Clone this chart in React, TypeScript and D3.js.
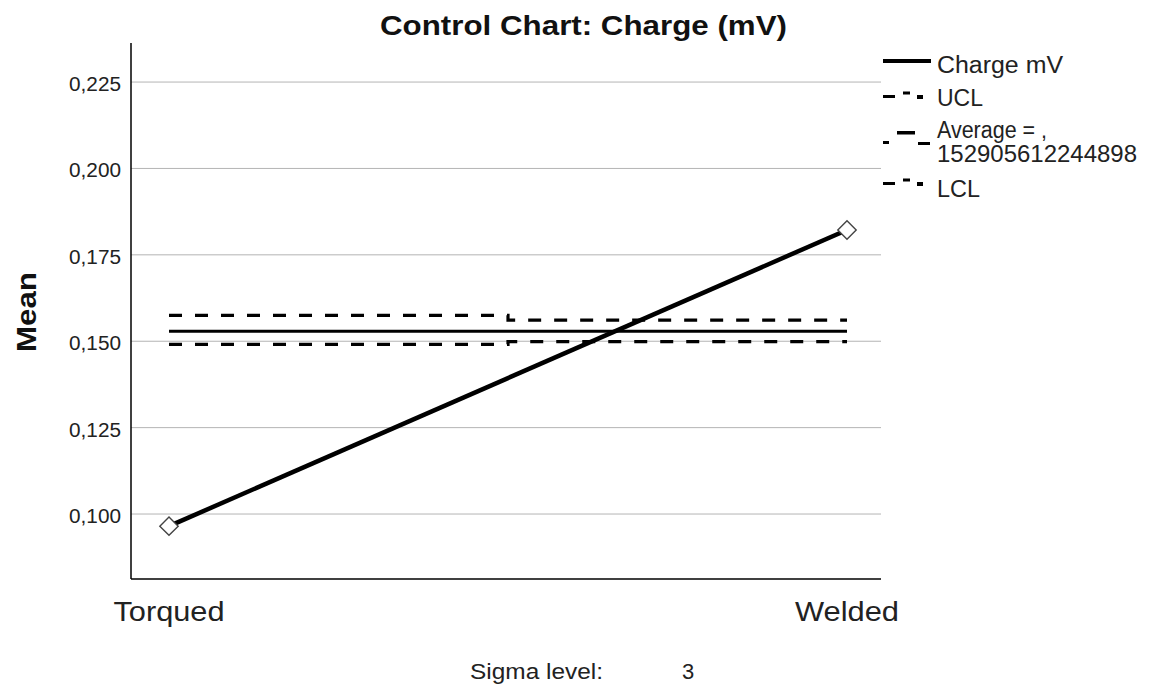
import React from "react";
import * as d3 from "d3";

const categories = ["Torqued", "Welded"];
const chargeMeans = [0.0965, 0.1822];
const uclValues = [0.1575, 0.1561];
const lclValues = [0.1491, 0.1499];
const averageValue = 0.152905612244898;
const yTicks = [0.1, 0.125, 0.15, 0.175, 0.2, 0.225];

const W = 1149;
const H = 688;
const plot = { left: 131, right: 881, top: 43, bottom: 579 };
const font = "'Liberation Sans', Arial, sans-serif";

export default function App() {
  const x = d3.scalePoint<string>().domain(categories).range([169, 847]);
  const y = d3.scaleLinear().domain([0.0812, 0.2363]).range([plot.bottom, plot.top]);
  const fmt = (v: number) => d3.format(".3f")(v).replace(".", ",");

  const stepLine = d3
    .line<number>()
    .x((_, i) => x(categories[i]) as number)
    .y((d) => y(d))
    .curve(d3.curveStep);
  const straight = d3
    .line<number>()
    .x((_, i) => x(categories[i]) as number)
    .y((d) => y(d));

  const lx = 937;
  const catWidths: Record<string, number> = { Torqued: 111, Welded: 104 };
  return (
    <svg width={W} height={H} style={{ position: "absolute", left: 0, top: 0, background: "#fff" }} fontFamily={font}>
      <rect x={0} y={0} width={W} height={H} fill="#fff" />
      <text x={380} y={35} fontSize={27} fontWeight="bold" fill="#111" textLength={407} lengthAdjust="spacingAndGlyphs">
        Control Chart: Charge (mV)
      </text>
      {yTicks.map((t) => (
        <g key={t}>
          <line x1={plot.left} x2={plot.right} y1={y(t)} y2={y(t)} stroke="#b4b4b4" strokeWidth={1} />
          <text x={69} y={y(t) + 9} fontSize={19.5} fill="#222" textLength={52} lengthAdjust="spacingAndGlyphs">
            {fmt(t)}
          </text>
        </g>
      ))}
      <line x1={plot.left} x2={plot.left} y1={plot.top} y2={plot.bottom} stroke="#000" strokeWidth={1.5} />
      <line x1={plot.left} x2={plot.right} y1={plot.bottom} y2={plot.bottom} stroke="#000" strokeWidth={1.5} />
      <text
        transform={`translate(36,${352}) rotate(-90)`}
        fontSize={27}
        fontWeight="bold"
        fill="#111"
        textLength={80}
        lengthAdjust="spacingAndGlyphs"
      >
        Mean
      </text>
      {categories.map((c) => (
        <text
          key={c}
          x={(x(c) as number) - catWidths[c] / 2}
          y={621}
          fontSize={28.5}
          fill="#222"
          textLength={catWidths[c]}
          lengthAdjust="spacingAndGlyphs"
        >
          {c}
        </text>
      ))}
      <path d={stepLine(uclValues) || ""} fill="none" stroke="#000" strokeWidth={3.2} strokeDasharray="13,13" />
      <path d={stepLine(lclValues) || ""} fill="none" stroke="#000" strokeWidth={3.2} strokeDasharray="13,13" />
      <path d={straight([averageValue, averageValue]) || ""} fill="none" stroke="#000" strokeWidth={3} />
      <path d={straight(chargeMeans) || ""} fill="none" stroke="#000" strokeWidth={4.5} />
      {chargeMeans.map((v, i) => {
        const cx = x(categories[i]) as number;
        const cy = y(v);
        return (
          <rect
            key={i}
            x={cx - 6.5}
            y={cy - 6.5}
            width={13}
            height={13}
            fill="#fff"
            stroke="#444"
            strokeWidth={1.4}
            transform={`rotate(45,${cx},${cy})`}
          />
        );
      })}
      {/* legend */}
      <g>
        <rect x={883} y={59} width={48} height={4} fill="#000" />
        <text x={lx} y={73} fontSize={23} fill="#222" textLength={126} lengthAdjust="spacingAndGlyphs">Charge mV</text>

        <rect x={883} y={95} width={12} height={3} fill="#000" />
        <rect x={903} y={91.5} width={7} height={3} fill="#000" />
        <rect x={917} y={95} width={6} height={4} fill="#000" />
        <text x={lx} y={106} fontSize={23} fill="#222" textLength={46} lengthAdjust="spacingAndGlyphs">UCL</text>

        <rect x={883} y={141} width={6} height={3} fill="#000" />
        <rect x={897} y={131} width={18} height={3.5} fill="#000" />
        <rect x={918} y={142} width={12} height={3} fill="#000" />
        <text x={lx} y={138} fontSize={23} fill="#222" textLength={110} lengthAdjust="spacingAndGlyphs">Average = ,</text>
        <text x={lx} y={161.5} fontSize={23} fill="#222" textLength={200} lengthAdjust="spacingAndGlyphs">152905612244898</text>

        <rect x={883} y={182} width={12} height={3} fill="#000" />
        <rect x={903} y={178.5} width={7} height={3} fill="#000" />
        <rect x={917} y={182} width={6} height={4} fill="#000" />
        <text x={lx} y={197} fontSize={23} fill="#222" textLength={43} lengthAdjust="spacingAndGlyphs">LCL</text>
      </g>
      <text x={470} y={679} fontSize={22} fill="#222" textLength={133} lengthAdjust="spacingAndGlyphs">Sigma level:</text>
      <text x={682} y={679} fontSize={22} fill="#222">3</text>
    </svg>
  );
}
